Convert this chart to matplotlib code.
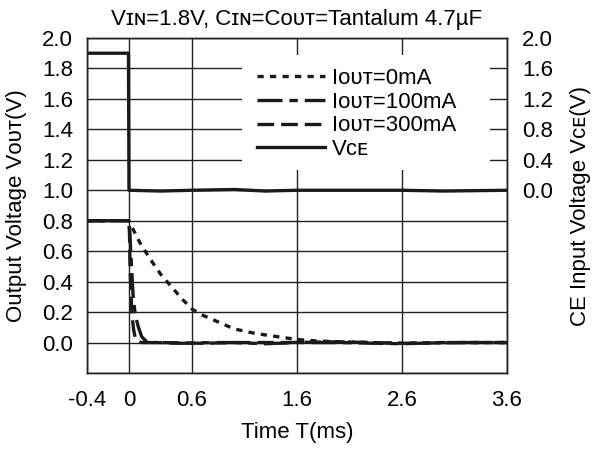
import matplotlib
matplotlib.use("Agg")
import matplotlib.pyplot as plt
from matplotlib.patches import Rectangle

plt.rcParams['font.family'] = ['Liberation Sans', 'DejaVu Sans']
plt.rcParams['lines.scale_dashes'] = False

# Output voltage traces (left axis, V) over time (ms)
t_0ma = [-0.4, 0.0, 0.02, 0.1, 0.2, 0.3, 0.4, 0.5, 0.6, 0.7, 0.8, 1.0, 1.2, 1.4, 1.6, 1.8, 2.0, 2.3, 2.6, 3.0, 3.3, 3.6]
v_0ma = [0.8, 0.8, 0.77, 0.66, 0.55, 0.45, 0.37, 0.29, 0.22, 0.18, 0.15, 0.09, 0.06, 0.04, 0.02, 0.01, 0.005, 0.0, -0.005, 0.0, 0.0, 0.0]

t_100ma = [-0.4, 0.0, 0.01, 0.02, 0.04, 0.06, 0.09, 0.12, 0.16, 0.25, 0.5, 0.8, 1.0, 1.3, 1.6, 2.0, 2.6, 3.0, 3.6]
v_100ma = [0.8, 0.8, 0.7, 0.55, 0.3, 0.18, 0.1, 0.04, 0.01, 0.0, -0.005, 0.0, 0.0, -0.008, 0.0, 0.0, -0.008, 0.0, 0.0]

t_300ma = [-0.4, 0.0, 0.005, 0.01, 0.02, 0.03, 0.045, 0.06, 0.08, 0.12, 0.3, 0.7, 1.0, 1.5, 2.0, 2.6, 3.2, 3.6]
v_300ma = [0.8, 0.8, 0.7, 0.5, 0.3, 0.17, 0.08, 0.03, 0.01, 0.0, 0.0, -0.005, 0.0, 0.0, 0.005, -0.005, 0.0, 0.0]

# CE input voltage (right axis, V)
t_vce = [-0.4, -0.005, 0.0, 0.3, 0.6, 1.0, 1.3, 1.6, 2.0, 2.6, 3.0, 3.6]
v_vce = [1.8, 1.8, 0.0, -0.01, 0.0, 0.01, -0.01, 0.0, 0.0, 0.0, -0.01, 0.0]

x_ticks = [-0.4, 0, 0.6, 1.6, 2.6, 3.6]
x_labels = ["-0.4", "0", "0.6", "1.6", "2.6", "3.6"]
left_ticks = [0.0, 0.2, 0.4, 0.6, 0.8, 1.0, 1.2, 1.4, 1.6, 1.8, 2.0]
right_ticks = [0.0, 0.4, 0.8, 1.2, 1.6, 2.0]

FS = 16

fig = plt.figure(figsize=(5.94, 4.5), dpi=100)
ax = fig.add_axes([87 / 594, 1 - 373 / 450, 420 / 594, 335 / 450])
ax2 = ax.twinx()

ax.set_xlim(-0.4, 3.6)
ax.set_ylim(-0.2, 2.0)
ax2.set_ylim(-2.4, 2.0)

ax.set_xticks(x_ticks)
ax.set_xticklabels(x_labels)
ax.set_yticks(left_ticks)
ax.set_yticklabels([f"{v:.1f}" for v in left_ticks])
ax.set_yticks([-0.2 + 0.2 * i for i in range(12)], minor=True)
ax2.set_yticks(right_ticks)
ax2.set_yticklabels([f"{v:.1f}" for v in right_ticks])

ax.grid(True, which='both', color='#222222', lw=1.0)
ax.set_axisbelow(True)
ax.tick_params(axis='x', length=0, labelsize=FS, pad=12)
ax.tick_params(axis='y', which='both', length=0, labelsize=FS, pad=10)
ax2.tick_params(length=0, labelsize=FS, pad=11)
for a in (ax, ax2):
    for s in a.spines.values():
        s.set_color('#222222')
        s.set_linewidth(1.0)

# white block behind the legend hides the grid there
ax.add_patch(Rectangle((0.369, 0.606), 0.591, 0.343, transform=ax.transAxes,
                       facecolor='white', edgecolor='none', zorder=1.5))

lw = 2.4
l0, = ax2.plot([], [], color='#1a1a1a', lw=lw, ls=(0, (4.5, 4.5)), label="Iᴏᴜᴛ=0mA")
l1, = ax2.plot([], [], color='#1a1a1a', lw=lw, ls=(0, (18, 5, 6, 5)), label="Iᴏᴜᴛ=100mA")
l2, = ax2.plot([], [], color='#1a1a1a', lw=lw, ls=(0, (12, 5)), label="Iᴏᴜᴛ=300mA")
l3, = ax2.plot([], [], color='#1a1a1a', lw=lw, ls='-', label="Vᴄᴇ")

ax.plot(t_0ma, v_0ma, color='#1a1a1a', lw=lw, ls=(0, (4.5, 4.5)), zorder=3)
ax.plot(t_100ma, v_100ma, color='#1a1a1a', lw=lw, ls=(0, (18, 5, 6, 5)), zorder=3)
ax.plot(t_300ma, v_300ma, color='#1a1a1a', lw=lw, ls=(0, (12, 5)), zorder=3)
ax2.plot(t_vce, v_vce, color='#1a1a1a', lw=lw, ls='-')

ax2.legend(handles=[l0, l1, l2, l3], loc='upper left', bbox_to_anchor=(0.405, 0.91),
           frameon=False, fontsize=FS, handlelength=3.05, handletextpad=0.3,
           labelspacing=0.12, borderpad=0.0, borderaxespad=0.0)

ax.set_title("Vɪɴ=1.8V, Cɪɴ=Cᴏᴜᴛ=Tantalum 4.7µF", fontsize=FS, pad=9)
ax.set_xlabel("Time T(ms)", fontsize=FS, labelpad=8)
ax.set_ylabel("Output Voltage Vᴏᴜᴛ(V)", fontsize=FS, labelpad=11)
ax2.set_ylabel("CE Input Voltage Vᴄᴇ(V)", fontsize=FS, labelpad=12)

fig.savefig("out.png", dpi=100)
